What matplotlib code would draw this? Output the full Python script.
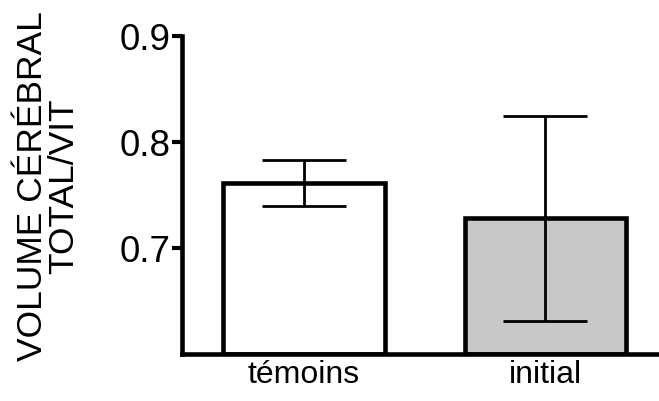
import matplotlib
matplotlib.use("Agg")
from matplotlib import pyplot as plt

plt.rcParams['font.family'] = ['Liberation Sans', 'DejaVu Sans']

groups = ["témoins", "initial"]
means = [0.761, 0.728]
err_low = [0.021, 0.097]
err_high = [0.022, 0.097]
colors = ["white", "#c8c8c8"]
yticks = [0.7, 0.8, 0.9]

fig = plt.figure(figsize=(6.59, 4.01), dpi=100)
ax = fig.add_axes([0.276, 0.117, 0.724, 0.793])

x = [0, 1]
ax.bar(x, [m - 0.6 for m in means], bottom=0.6, width=0.67, color=colors,
       edgecolor="black", linewidth=3.3, zorder=2)
ax.errorbar(x, means, yerr=[err_low, err_high], fmt="none", ecolor="black",
            elinewidth=2, capsize=30, capthick=2, zorder=3)

ax.set_ylim(0.6, 0.9)
ax.set_xlim(-0.505, 1.47)
ax.set_yticks(yticks)
ax.set_yticklabels([f"{v:.1f}" for v in yticks], fontsize=26.5)
ax.set_xticks(x)
ax.set_xticklabels(groups, fontsize=23)
ax.tick_params(axis="y", length=7, width=3, pad=1)
ax.tick_params(axis="x", length=0, pad=4)

for s in ["top", "right"]:
    ax.spines[s].set_visible(False)
for s in ["left", "bottom"]:
    ax.spines[s].set_linewidth(3.3)

fig.text(0.073, 0.536, "VOLUME CÉRÉBRAL\nTOTAL/VIT", rotation=90, ha="center",
         va="center", fontsize=25.5, linespacing=0.95)

fig.savefig("out.png", dpi=100)
